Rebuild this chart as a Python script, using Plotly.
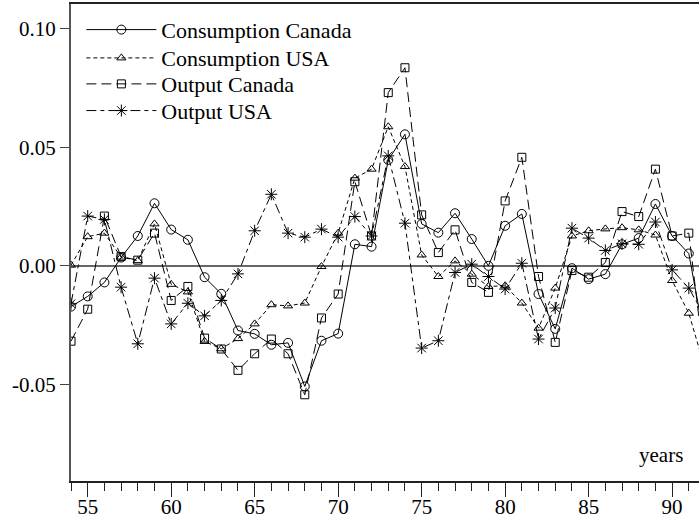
import plotly.graph_objects as go

years = list(range(54, 93))

cons_canada = [-0.0172, -0.0129, -0.0070, 0.0035, 0.0126, 0.0264, 0.0153, 0.0110, -0.0048, -0.0118,
               -0.0273, -0.0287, -0.0333, -0.0325, -0.0509, -0.0316, -0.0286, 0.0091, 0.0081, 0.0447,
               0.0555, 0.0177, 0.0140, 0.0222, 0.0113, 0.0000, 0.0169, 0.0219, -0.0119, -0.0266,
               -0.0010, -0.0056, -0.0035, 0.0091, 0.0117, 0.0261, 0.0126, 0.0052, -0.0330]

cons_usa = [0.0003, 0.0123, 0.0138, 0.0037, 0.0022, 0.0177, -0.0078, -0.0110, -0.0319, -0.0350,
            -0.0307, -0.0245, -0.0164, -0.0169, -0.0157, -0.0003, 0.0138, 0.0370, 0.0408, 0.0587,
            0.0419, 0.0046, -0.0045, 0.0021, -0.0035, -0.0087, -0.0084, -0.0157, -0.0263, -0.0094,
            0.0126, 0.0148, 0.0156, 0.0161, 0.0152, 0.0130, -0.0062, -0.0200, -0.0440]

out_canada = [-0.0318, -0.0183, 0.0210, 0.0039, 0.0024, 0.0138, -0.0146, -0.0087, -0.0305, -0.0351,
              -0.0441, -0.0371, -0.0309, -0.0371, -0.0544, -0.0220, -0.0119, 0.0355, 0.0126, 0.0731,
              0.0836, 0.0215, 0.0056, 0.0152, -0.0070, -0.0112, 0.0274, 0.0458, -0.0045, -0.0323,
              -0.0020, -0.0048, 0.0014, 0.0229, 0.0208, 0.0408, 0.0126, 0.0138, -0.0450]

out_usa = [-0.0160, 0.0210, 0.0196, -0.0090, -0.0329, -0.0052, -0.0245, -0.0158, -0.0211, -0.0146,
           -0.0034, 0.0148, 0.0302, 0.0138, 0.0121, 0.0155, 0.0121, 0.0208, 0.0126, 0.0464,
           0.0180, -0.0347, -0.0316, -0.0028, 0.0007, -0.0045, -0.0098, 0.0011, -0.0309, -0.0178,
           0.0159, 0.0117, 0.0065, 0.0093, 0.0091, 0.0185, -0.0017, -0.0094, -0.0220]

series_names = ["Consumption Canada", "Consumption USA", "Output Canada", "Output USA"]
x_tick_vals = [55, 60, 65, 70, 75, 80, 85, 90]
x_tick_text = ["55", "60", "65", "70", "75", "80", "85", "90"]
y_tick_vals = [-0.05, 0.0, 0.05, 0.10]
y_tick_text = ["-0.05", "0.00", "0.05", "0.10"]

FONT = "Liberation Serif, Times New Roman, serif"

styles = [
    dict(symbol="circle-open", size=9, dash="solid"),
    dict(symbol="triangle-up-open", size=8, dash="4px,3px"),
    dict(symbol="square-open", size=8, dash="10px,5px"),
    dict(symbol="asterisk-open", size=10, dash="10px,4px,4px,4px"),
]
legend_ids = ["legend", "legend2", "legend3", "legend4"]
legend_y = [0.9459, 0.8866, 0.8321, 0.7762]

fig = go.Figure()
for name, vals, st, lg in zip(series_names, [cons_canada, cons_usa, out_canada, out_usa], styles, legend_ids):
    fig.add_trace(go.Scatter(
        x=years, y=vals, name=name, mode="lines+markers", legend=lg,
        line=dict(color="black", width=1, dash=st["dash"]),
        marker=dict(symbol=st["symbol"], size=st["size"], color="black",
                    line=dict(color="black", width=1)),
        cliponaxis=True,
    ))

legend_common = dict(x=0.0165, xanchor="left", yanchor="middle",
                     bgcolor="rgba(0,0,0,0)", borderwidth=0, itemwidth=70,
                     font=dict(family=FONT, size=22, color="black"))
layout_legends = {}
for lg, ly in zip(legend_ids, legend_y):
    layout_legends[lg] = dict(legend_common, y=ly)

fig.update_layout(
    template="none",
    width=699, height=519,
    margin=dict(l=71, r=0, t=4, b=38, autoexpand=False),
    paper_bgcolor="white", plot_bgcolor="white",
    font=dict(family=FONT, size=21, color="black"),
    showlegend=True,
    hovermode=False,
    xaxis=dict(range=[54, 91.61], tickvals=x_tick_vals, ticktext=x_tick_text, automargin=False,
               ticks="outside", ticklen=14, tickwidth=1, tickcolor="#222",
               ticklabelstandoff=-8,
               showline=True, linecolor="#222", linewidth=2, mirror=True,
               showgrid=False, zeroline=False,
               minor=dict(dtick=1, tick0=54, ticks="outside", ticklen=8, tickwidth=1,
                          tickcolor="#222", showgrid=False),
               tickfont=dict(family=FONT, size=21, color="black")),
    yaxis=dict(range=[-0.0908, 0.1105], tickvals=y_tick_vals, ticktext=y_tick_text, automargin=False,
               ticks="outside", ticklen=9, tickwidth=1, tickcolor="#444",
               showline=True, linecolor="#555", linewidth=2,
               showgrid=False, zeroline=True, zerolinecolor="#666", zerolinewidth=1.5,
               tickfont=dict(family=FONT, size=21, color="black")),
    annotations=[dict(text="years", xref="paper", yref="paper", x=0.9777, y=0.0551,
                      xanchor="right", yanchor="middle", showarrow=False,
                      font=dict(family=FONT, size=21, color="black"))],
    **layout_legends,
)

fig.write_html("out.html", config={"displayModeBar": False},
               post_script="document.body.style.margin='0';document.body.style.overflow='hidden';")
